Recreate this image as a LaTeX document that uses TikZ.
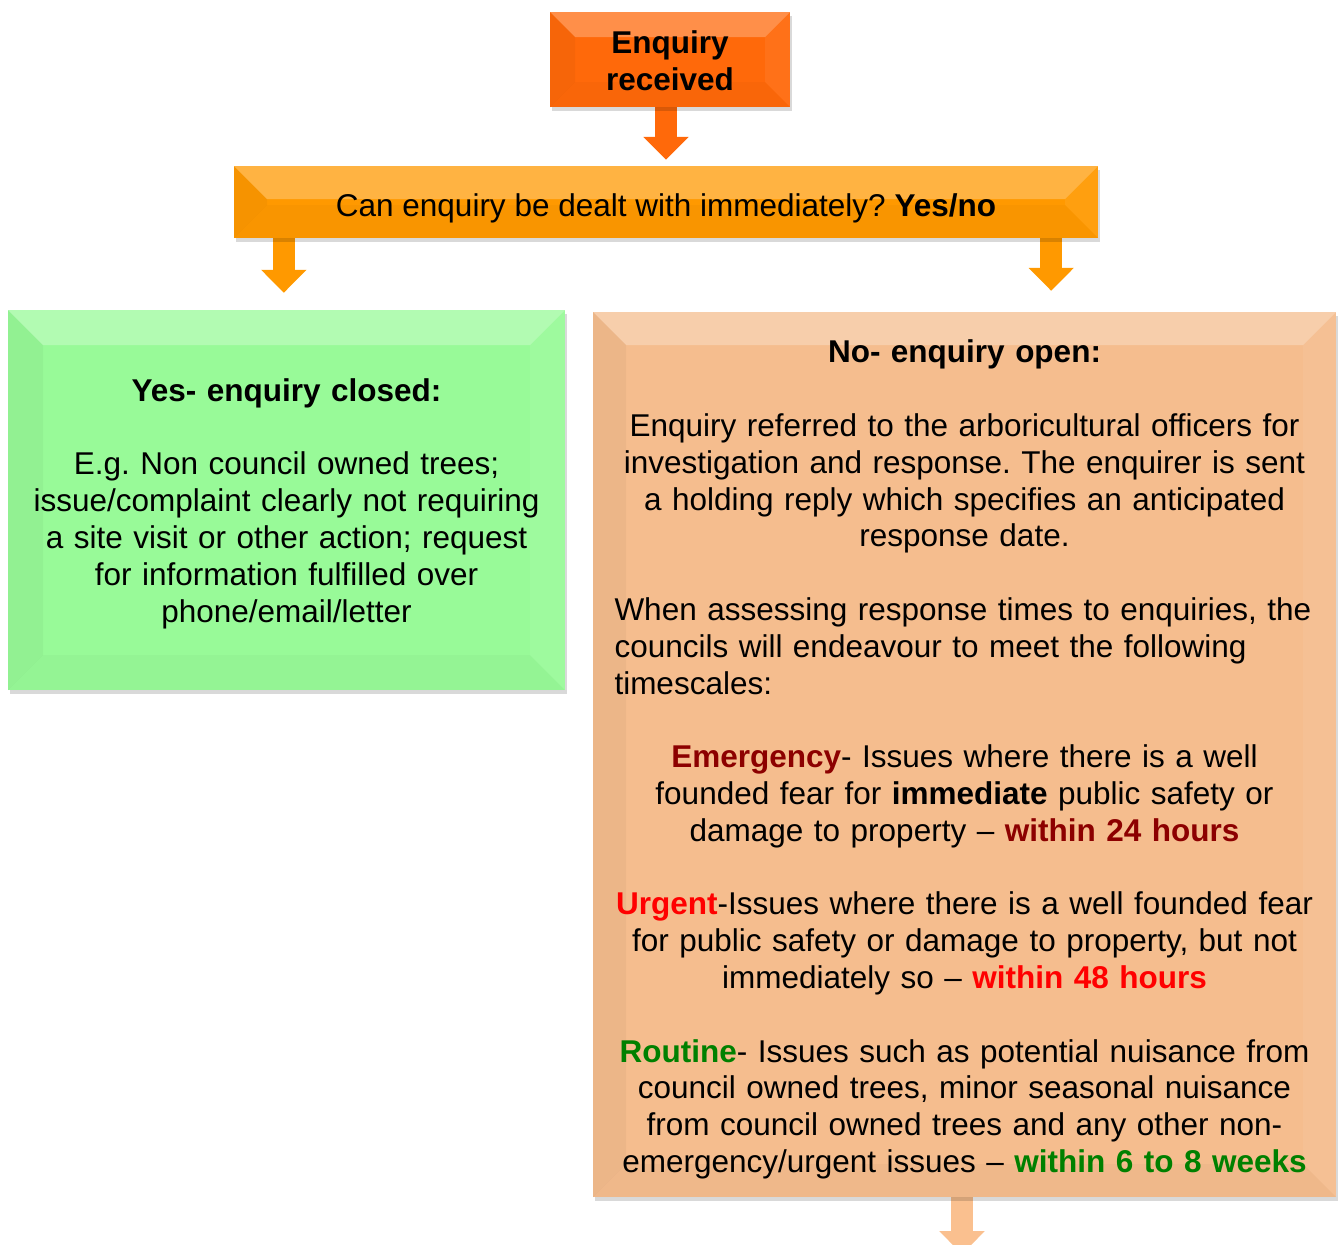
\documentclass[tikz,border=0pt]{standalone}
\usepackage{fontspec}
\setmainfont{Liberation Sans}
\frenchspacing
\usetikzlibrary{arrows.meta,shadows,backgrounds}
\definecolor{enqC}{RGB}{255,105,10}
\definecolor{qC}{RGB}{255,153,0}
\definecolor{yesC}{RGB}{152,250,152}
\definecolor{noC}{RGB}{245,189,142}
\definecolor{noArr}{RGB}{250,192,143}
\definecolor{emC}{RGB}{140,0,0}
\definecolor{urC}{RGB}{255,0,0}
\definecolor{roC}{RGB}{0,128,0}
\tikzset{
  bevel/.style={path picture={
    \path (path picture bounding box.north west) coordinate (pNW)
          (path picture bounding box.north east) coordinate (pNE)
          (path picture bounding box.south west) coordinate (pSW)
          (path picture bounding box.south east) coordinate (pSE);
    \fill[white,opacity=.26] (pNW) -- (pNE) -- ([shift={(-#1,-#1)}]pNE) -- ([shift={(#1,-#1)}]pNW) -- cycle;
    \fill[black,opacity=.035] (pNW) -- ([shift={(#1,-#1)}]pNW) -- ([shift={(#1,#1)}]pSW) -- (pSW) -- cycle;
    \fill[white,opacity=.06] (pNE) -- ([shift={(-#1,-#1)}]pNE) -- ([shift={(-#1,#1)}]pSE) -- (pSE) -- cycle;
    \fill[black,opacity=.025] (pSW) -- ([shift={(#1,#1)}]pSW) -- ([shift={(-#1,#1)}]pSE) -- (pSE) -- cycle;
  }},
  box/.style={draw=none, inner sep=0pt, align=center,
    drop shadow={shadow xshift=2pt, shadow yshift=-4pt, fill=black, opacity=.15}},
  blockarrow/.style={line width=22pt, -{Triangle[width=44pt,length=23pt]}},
  txt/.style={font=\fontsize{31.5}{36.8}\selectfont}
}
\begin{document}
\begin{tikzpicture}[x=1pt,y=-1pt, txt]
\useasboundingbox (0,0) rectangle (1339,1245);

\node[box, bevel=25pt, fill=enqC, minimum width=240pt, minimum height=95pt] (enq) at (670,59.5)
  {\rule{0pt}{25pt}\textbf{Enquiry}\\\textbf{received}};

\node[box, bevel=33pt, fill=qC, minimum width=864pt, minimum height=72pt] (q) at (666,202)
  {\rule{0pt}{35pt}Can enquiry be dealt with immediately? \textbf{Yes/no}};

\node[box, bevel=35pt, fill=yesC, minimum width=557pt, minimum height=380pt, text width=545pt] (yes) at (286.5,500)
  {\rule{0pt}{30pt}\textbf{Yes- enquiry closed:}\\[36.8pt]
   E.g. Non council owned trees;\\
   issue/complaint clearly not requiring\\
   a site visit or other action; request\\
   for information fulfilled over\\
   phone/email/letter};

\node[box, bevel=33pt, fill=noC, minimum width=743pt, minimum height=885pt, text width=730pt] (no) at (964.5,754.5)
  {\rule{0pt}{33pt}\textbf{No- enquiry open:}\\[36.8pt]
   Enquiry referred to the arboricultural officers for\\
   investigation and response. The enquirer is sent\\
   a holding reply which specifies an anticipated\\
   response date.\\[36.8pt]
   \makebox[700pt][l]{When assessing response times to enquiries, the}\\
   \makebox[700pt][l]{councils will endeavour to meet the following}\\
   \makebox[700pt][l]{timescales:}\\[36.8pt]
   {\color{emC}\textbf{Emergency}}- Issues where there is a well\\
   founded fear for \textbf{immediate} public safety or\\
   damage to property – {\color{emC}\textbf{within 24 hours}}\\[36.8pt]
   {\color{urC}\textbf{Urgent}}-Issues where there is a well founded fear\\
   for public safety or damage to property, but not\\
   immediately so – {\color{urC}\textbf{within 48 hours}}\\[36.8pt]
   {\color{roC}\textbf{Routine}}- Issues such as potential nuisance from\\
   council owned trees, minor seasonal nuisance\\
   from council owned trees and any other non-\\
   emergency/urgent issues – {\color{roC}\textbf{within 6 to 8 weeks}}};

\coordinate (endNo) at ([yshift=-57pt]no.south -| 962,0);

\begin{scope}[on background layer]
  \draw[blockarrow, enqC, shorten >=6pt] ([xshift=-4pt]enq.south) -- ([xshift=-4pt]enq.south |- q.north);
  \draw[blockarrow, qC, shorten >=17pt] ([xshift=50pt]q.south west) -- ([xshift=50pt]q.south west |- yes.north);
  \draw[blockarrow, qC, shorten >=21pt] ([xshift=-47pt]q.south east) -- ([xshift=-47pt]q.south east |- no.north);
  \draw[blockarrow, noArr] (no.south -| endNo) -- (endNo);
\end{scope}
\end{tikzpicture}
\end{document}
